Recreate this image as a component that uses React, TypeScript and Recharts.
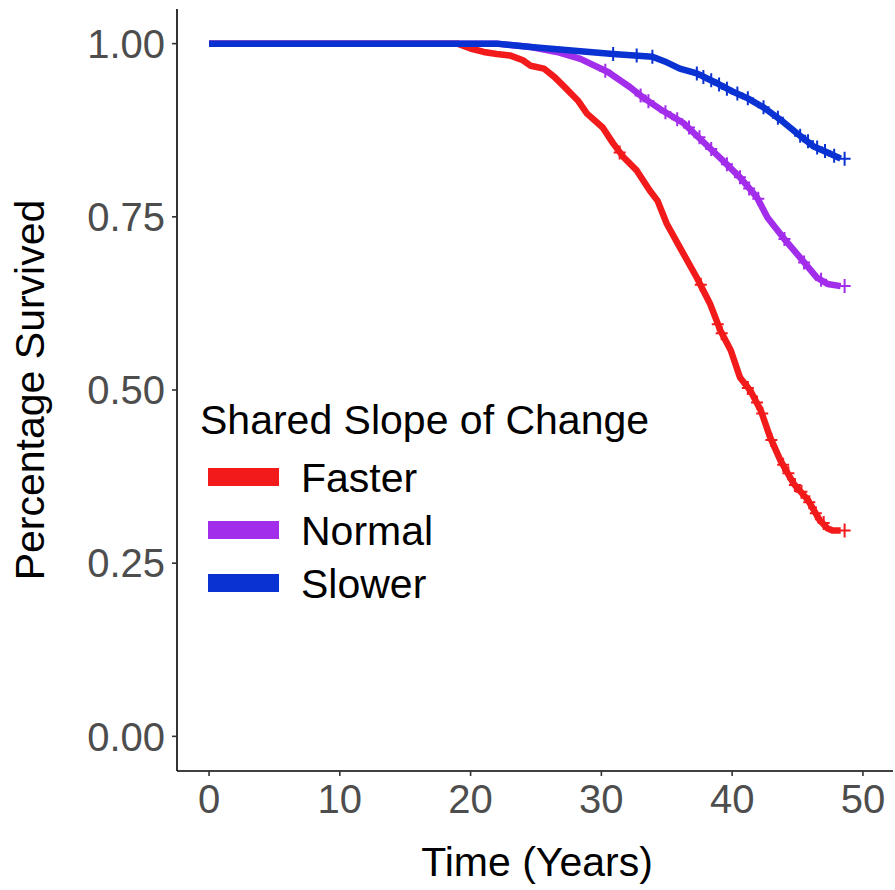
import React from 'react'
import { ComposedChart, Line, Scatter, XAxis, YAxis } from 'recharts'

// survival curves (time in years, proportion surviving)
const fasterTime = [0, 19.0, 20.0, 21.0, 22.0, 23.0, 24.0, 24.6, 25.6, 26.4, 27.1, 28.2, 28.9, 30.1, 30.9, 31.7, 32.7, 33.7, 34.3, 35.0, 36.0, 37.3, 38.3, 39.1, 39.9, 40.6, 41.4, 42.2, 42.9, 43.7, 44.7, 45.8, 46.7, 47.3, 47.7, 48.3]
const fasterSurv = [1, 1, 0.993, 0.988, 0.985, 0.983, 0.976, 0.968, 0.964, 0.952, 0.939, 0.918, 0.899, 0.879, 0.856, 0.836, 0.817, 0.788, 0.773, 0.74, 0.706, 0.662, 0.625, 0.586, 0.557, 0.518, 0.499, 0.47, 0.432, 0.398, 0.365, 0.341, 0.312, 0.3, 0.297, 0.297]

const normalTime = [0, 22.0, 24.6, 26.6, 28.4, 30.5, 32.2, 33.2, 34.7, 36.3, 37.8, 39.3, 40.6, 41.9, 42.7, 43.9, 45.2, 46.5, 47.3, 48.3]
const normalSurv = [1, 1, 0.995, 0.988, 0.978, 0.959, 0.937, 0.922, 0.903, 0.885, 0.858, 0.831, 0.807, 0.778, 0.749, 0.72, 0.691, 0.662, 0.653, 0.65]

const slowerTime = [0, 22.0, 24.6, 28.4, 30.9, 33.9, 35.0, 36.0, 37.3, 38.6, 39.9, 41.2, 42.4, 43.7, 45.0, 46.2, 47.5, 48.3]
const slowerSurv = [1, 1, 0.995, 0.989, 0.985, 0.981, 0.973, 0.964, 0.957, 0.945, 0.932, 0.921, 0.908, 0.89, 0.87, 0.852, 0.841, 0.834]

// censoring marks (+)
const fasterCensorT = [31.4, 37.6, 38.9, 39.2, 41.2, 41.9, 42.3, 43.0, 43.9, 44.3, 44.8, 45.3, 45.9, 46.4, 47.0, 48.6]
const fasterCensorS = [0.843, 0.652, 0.595, 0.582, 0.503, 0.482, 0.466, 0.428, 0.392, 0.38, 0.363, 0.353, 0.338, 0.322, 0.308, 0.297]
const normalCensorT = [30.3, 33.0, 33.6, 34.9, 35.8, 36.7, 37.5, 38.4, 39.6, 40.6, 41.3, 42.0, 44.0, 45.5, 46.8, 48.6]
const normalCensorS = [0.961, 0.925, 0.917, 0.901, 0.891, 0.879, 0.865, 0.848, 0.826, 0.807, 0.791, 0.776, 0.718, 0.684, 0.659, 0.65]
const slowerCensorT = [30.9, 32.7, 33.9, 37.3, 37.8, 38.4, 39.0, 39.6, 40.4, 41.2, 42.4, 43.5, 45.2, 45.8, 46.5, 47.1, 47.8, 48.6]
const slowerCensorS = [0.985, 0.983, 0.981, 0.957, 0.952, 0.947, 0.941, 0.935, 0.928, 0.921, 0.908, 0.893, 0.867, 0.859, 0.85, 0.845, 0.838, 0.834]

const xTicks = [0, 10, 20, 30, 40, 50]
const yTicks = [0, 0.25, 0.5, 0.75, 1]

const groups = ['Faster', 'Normal', 'Slower']
const colors = ['#F21A1A', '#A22DEA', '#0A32D2']

const FONT = '"Liberation Sans", Arial, Helvetica, sans-serif'

if (typeof document !== 'undefined') document.body.style.margin = '0'

const toRows = (t: number[], s: number[]) => t.map((v, i) => ({ t: v, s: s[i] }))

const curves = [
  { name: groups[0], color: colors[0], rows: toRows(fasterTime, fasterSurv), censor: toRows(fasterCensorT, fasterCensorS) },
  { name: groups[1], color: colors[1], rows: toRows(normalTime, normalSurv), censor: toRows(normalCensorT, normalCensorS) },
  { name: groups[2], color: colors[2], rows: toRows(slowerTime, slowerSurv), censor: toRows(slowerCensorT, slowerCensorS) },
]

const plusShape = (color: string) => (props: any) => {
  const { cx, cy } = props
  if (cx == null || cy == null) return <g />
  return (
    <path
      d={`M${cx - 6},${cy}H${cx + 6}M${cx},${cy - 7}V${cy + 7}`}
      stroke={color}
      strokeWidth={2}
      fill="none"
    />
  )
}

const tickStyle = { fill: '#4D4D4D', fontSize: 40, fontFamily: FONT }

export default function App() {
  return (
    <div style={{ position: 'relative', width: 895, height: 890, background: '#fff' }}>
      <ComposedChart width={895} height={890} margin={{ top: 9, right: 2, bottom: 0, left: 0 }}>
        <XAxis
          type="number"
          dataKey="t"
          domain={[-2.45, 52.3]}
          ticks={xTicks}
          allowDataOverflow
          tick={tickStyle}
          tickSize={5}
          tickMargin={9}
          height={119}
          axisLine={{ stroke: '#000', strokeWidth: 1.6 }}
          tickLine={{ stroke: '#333', strokeWidth: 1.6 }}
        />
        <YAxis
          type="number"
          dataKey="s"
          domain={[-0.05, 1.05]}
          ticks={yTicks}
          allowDataOverflow
          tickFormatter={(v: number) => v.toFixed(2)}
          tick={tickStyle}
          tickSize={5}
          tickMargin={7}
          width={177}
          axisLine={{ stroke: '#000', strokeWidth: 1.6 }}
          tickLine={{ stroke: '#333', strokeWidth: 1.6 }}
        />
        {curves.map((c) => (
          <Line
            key={c.name}
            data={c.rows}
            dataKey="s"
            type="linear"
            stroke={c.color}
            strokeWidth={6.5}
            strokeLinejoin="round"
            dot={false}
            activeDot={false}
            isAnimationActive={false}
          />
        ))}
        {curves.map((c) => (
          <Scatter
            key={c.name + '-censor'}
            data={c.censor}
            dataKey="s"
            fill={c.color}
            shape={plusShape(c.color)}
            isAnimationActive={false}
          />
        ))}
      </ComposedChart>

      <svg
        width={895}
        height={890}
        style={{ position: 'absolute', left: 0, top: 0, pointerEvents: 'none' }}
        fontFamily={FONT}
      >
        <text x={44} y={390} fontSize={41} fill="#000" textAnchor="middle" transform="rotate(-90 44 390)">
          Percentage Survived
        </text>
        <text x={537} y={876} fontSize={41} fill="#000" textAnchor="middle">
          Time (Years)
        </text>

        <text x={200} y={434} fontSize={41} fill="#000">Shared Slope of Change</text>
        {groups.map((g, i) => (
          <g key={g}>
            <rect x={208} y={468 + i * 53} width={71} height={18} fill={colors[i]} />
            <text x={301} y={492 + i * 53} fontSize={41} fill="#000">{g}</text>
          </g>
        ))}
      </svg>
    </div>
  )
}
